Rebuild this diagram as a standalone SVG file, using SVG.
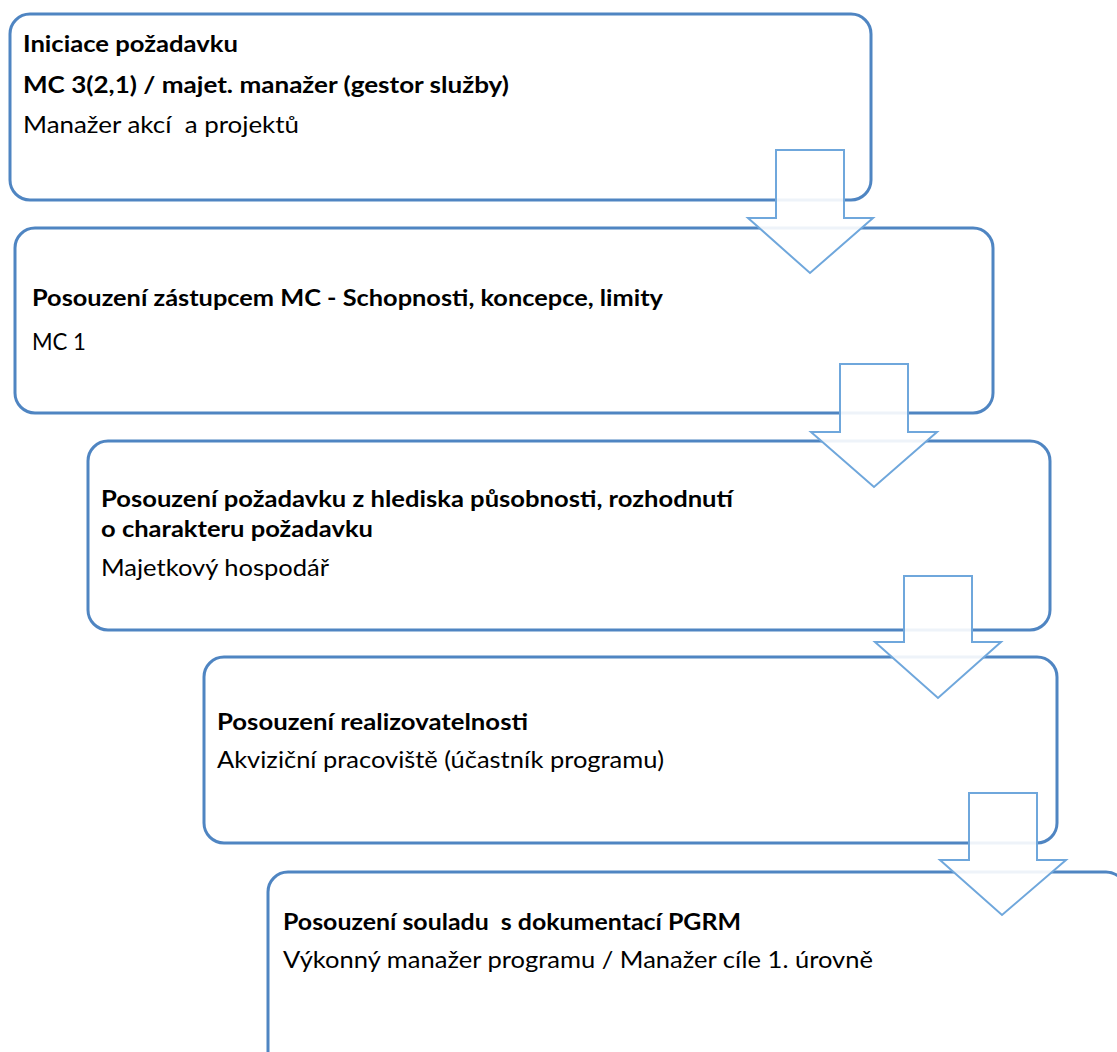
<svg xmlns="http://www.w3.org/2000/svg" width="1117" height="1052" viewBox="0 0 1117 1052">
  <style>
    .box { fill: #ffffff; stroke: #4f85c2; stroke-width: 3; }
    .arrow { fill: #ffffff; fill-opacity: 0.9; stroke: #6fa7dc; stroke-width: 2; stroke-linejoin: miter; }
    .t { font-family: Lato, "Open Sans", "Liberation Sans", sans-serif; font-size: 23px; fill: #000000; white-space: pre; }
    .b { font-weight: bold; }
  </style>
  <rect width="1117" height="1052" fill="#ffffff"/>

  <!-- Process steps -->
  <g id="step1">
    <rect class="box" x="10" y="14" width="861" height="186" rx="20" ry="20"/>
    <text class="t b" x="23" y="52" textLength="215" lengthAdjust="spacingAndGlyphs">Iniciace požadavku</text>
    <text class="t b" x="23" y="93" textLength="486" lengthAdjust="spacingAndGlyphs">MC 3(2,1) / majet. manažer (gestor služby)</text>
    <text class="t" x="23" y="133" textLength="276" lengthAdjust="spacingAndGlyphs">Manažer akcí  a projektů</text>
  </g>

  <g id="step2">
    <rect class="box" x="15" y="228" width="978" height="185" rx="20" ry="20"/>
    <text class="t b" x="32" y="306" textLength="631" lengthAdjust="spacingAndGlyphs">Posouzení zástupcem MC - Schopnosti, koncepce, limity</text>
    <text class="t" x="32" y="350" textLength="54" lengthAdjust="spacingAndGlyphs">MC 1</text>
  </g>

  <g id="step3">
    <rect class="box" x="88" y="441" width="962" height="189" rx="20" ry="20"/>
    <text class="t b" x="101" y="507" textLength="632" lengthAdjust="spacingAndGlyphs">Posouzení požadavku z hlediska působnosti, rozhodnutí</text>
    <text class="t b" x="101" y="537" textLength="272" lengthAdjust="spacingAndGlyphs">o charakteru požadavku</text>
    <text class="t" x="101" y="576" textLength="228" lengthAdjust="spacingAndGlyphs">Majetkový hospodář</text>
  </g>

  <g id="step4">
    <rect class="box" x="204" y="657" width="853" height="186" rx="20" ry="20"/>
    <text class="t b" x="217" y="730" textLength="311" lengthAdjust="spacingAndGlyphs">Posouzení realizovatelnosti</text>
    <text class="t" x="217" y="768" textLength="447" lengthAdjust="spacingAndGlyphs">Akviziční pracoviště (účastník programu)</text>
  </g>

  <g id="step5">
    <rect class="box" x="268" y="872" width="858" height="220" rx="20" ry="20"/>
    <text class="t b" x="283" y="930" textLength="458" lengthAdjust="spacingAndGlyphs">Posouzení souladu  s dokumentací PGRM</text>
    <text class="t" x="283" y="968" textLength="590" lengthAdjust="spacingAndGlyphs">Výkonný manažer programu / Manažer cíle 1. úrovně</text>
  </g>

  <!-- Block arrows between steps -->
  <g id="connectors">
    <polygon class="arrow" points="776,150 844,150 844,218 873,218 810,273 748,218 776,218"/>
    <polygon class="arrow" points="840,364 908,364 908,432 937,432 874,487 811,432 840,432"/>
    <polygon class="arrow" points="904,576 972,576 972,642 1001,642 938,698 875,642 904,642"/>
    <polygon class="arrow" points="969,793 1037,793 1037,860 1066,860 1002,915 940,860 969,860"/>
  </g>
</svg>
